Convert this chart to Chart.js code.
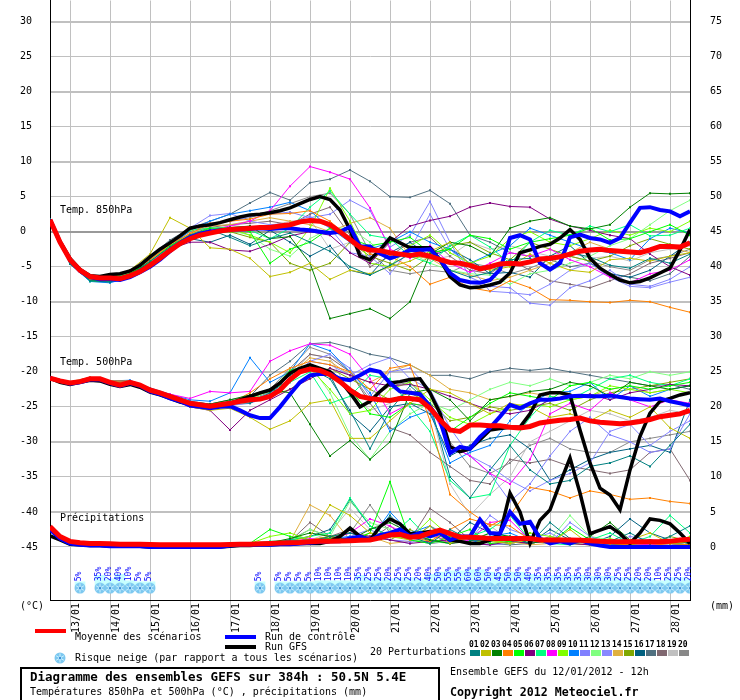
<!DOCTYPE html>
<html>
<head>
<meta charset="utf-8">
<script src="https://cdn.jsdelivr.net/npm/chart.js@4.4.1/dist/chart.umd.min.js"></script>
<style>
  html, body { margin: 0; padding: 0; background: #fff; }
  #wrap { position: relative; width: 740px; height: 700px; overflow: hidden;
          font-family: "DejaVu Sans Mono", monospace; font-size: 10px; color: #000; }
  #chart { position: absolute; left: 0; top: 0; }
  .t { position: absolute; white-space: pre; line-height: 12px; }
  .bar { position: absolute; height: 4px; }
  .sw { position: absolute; width: 10px; height: 6px; top: 650px; }
  .num { position: absolute; top: 640px; font-size: 8px; font-weight: bold; line-height: 9px; }
  #box { position: absolute; left: 20px; top: 667px; width: 416px; height: 40px; border: 2px solid #000; background: #fff; }
</style>
</head>
<body>
<div id="wrap">
  <canvas id="chart" width="740" height="700"></canvas>

  <div class="t" style="left:60px;top:204px">Temp. 850hPa</div>
  <div class="t" style="left:60px;top:356px">Temp. 500hPa</div>
  <div class="t" style="left:60px;top:512px">Précipitations</div>
  <div class="t" style="left:20px;top:600px">(°C)</div>
  <div class="t" style="left:710px;top:600px">(mm)</div>

  <div class="bar" style="left:35px;top:629px;width:31px;background:#ff0000"></div>
  <div class="t" style="left:75px;top:631px">Moyenne des scénarios</div>
  <div class="bar" style="left:225px;top:635px;width:31px;background:#0000ff"></div>
  <div class="t" style="left:265px;top:631px">Run de contrôle</div>
  <div class="bar" style="left:225px;top:645px;width:31px;background:#000000"></div>
  <div class="t" style="left:265px;top:641px">Run GFS</div>
  <canvas id="legflake" width="12" height="12" style="position:absolute;left:54px;top:652px"></canvas>
  <div class="t" style="left:75px;top:652px">Risque neige (par rapport a tous les scénarios)</div>
  <div class="t" style="left:370px;top:646px">20 Perturbations</div>
  <div id="legend20"></div>

  <div id="box"></div>
  <div class="t" style="left:30px;top:670px;font-size:12.5px;font-weight:bold;line-height:14px">Diagramme des ensembles GEFS sur 384h : 50.5N 5.4E</div>
  <div class="t" style="left:30px;top:686px">Températures 850hPa et 500hPa (°C) , précipitations (mm)</div>
  <div class="t" style="left:450px;top:666px">Ensemble GEFS du 12/01/2012 - 12h</div>
  <div class="t" style="left:450px;top:685px;font-size:11.6px;font-weight:bold;line-height:14px">Copyright 2012 Meteociel.fr</div>
</div>

<script>
// time axis: run of 12/01/2012 12h, 384h, main runs every 6h, members every 12h
const step6 = Array.from({ length: 65 }, (_, i) => i * 6);
const step12 = Array.from({ length: 33 }, (_, j) => j * 12);
const dayHours = [12, 36, 60, 84, 108, 132, 156, 180, 204, 228, 252, 276, 300, 324, 348, 372];
const dayLabels = ['13/01', '14/01', '15/01', '16/01', '17/01', '18/01', '19/01', '20/01',
                   '21/01', '22/01', '23/01', '24/01', '25/01', '26/01', '27/01', '28/01'];
const leftTicks = [30, 25, 20, 15, 10, 5, 0, -5, -10, -15, -20, -25, -30, -35, -40, -45];
const rightTicks = [75, 70, 65, 60, 55, 50, 45, 40, 35, 30, 25, 20, 15, 10, 5, 0];

const memberColors = ['#008080', '#c0c000', '#008000', '#ff8000', '#00ff00', '#800080', '#00ff80',
  '#ff00ff', '#80ff00', '#0080ff', '#8080ff', '#80ff80', '#8888ff', '#e0b040', '#80a800',
  '#006080', '#507080', '#806870', '#c0c0c0', '#888888'];

// snow risk (% of members), every 6h
const snowPct = [0, 0, 0, 5, 0, 35, 20, 40, 10, 5, 5, 0, 0, 0, 0, 0, 0, 0, 0, 0, 0, 5, 0, 5, 5, 5, 5,
  10, 10, 10, 10, 35, 25, 25, 20, 25, 25, 20, 40, 50, 55, 55, 60, 60, 50, 45, 50, 50, 40, 35, 35,
  35, 35, 35, 30, 30, 30, 25, 25, 20, 20, 10, 25, 25, 20];

// 850 hPa (°C)
const mean850 = [1.7, -1.5, -4.0, -5.5, -6.4, -6.6, -6.6, -6.7, -6.3, -5.7, -4.8, -3.8, -2.7, -1.7, -1.0, -0.5,
  -0.2, 0.1, 0.3, 0.4, 0.5, 0.6, 0.6, 0.8, 1.0, 1.4, 1.6, 1.5, 1.0, 0.0, -1.1, -2.2, -2.6, -2.7, -3.0, -3.2,
  -3.4, -3.2, -3.5, -4.0, -4.4, -4.5, -4.8, -5.3, -5.0, -4.6, -4.5, -4.6, -4.3, -3.9, -3.8, -3.6, -3.2,
  -2.8, -2.6, -2.5, -2.7, -2.8, -2.9, -3.0, -2.6, -2.1, -2.1, -2.2, -1.6];
const ctrl850 = [1.7, -1.5, -4.0, -5.6, -6.5, -6.8, -6.8, -6.9, -6.5, -5.8, -5.0, -4.0, -2.8, -1.6, -0.8, -0.3,
  0.0, 0.2, 0.3, 0.3, 0.4, 0.5, 0.4, 0.5, 0.5, 0.3, 0.2, 0.0, -0.2, 0.0, 0.7, -2.1, -2.1, -3.1, -3.8, -3.3,
  -2.6, -2.6, -2.5, -4.0, -5.9, -6.9, -7.2, -7.3, -6.9, -5.4, -0.9, -0.5, -1.1, -4.5, -5.4, -4.5, -0.8,
  -0.4, -0.9, -1.1, -1.6, -0.9, 1.3, 3.4, 3.5, 3.1, 2.9, 2.2, 2.9];
const gfs850 = [1.7, -1.4, -3.8, -5.4, -6.3, -6.4, -6.1, -6.0, -5.6, -4.8, -3.6, -2.5, -1.6, -0.6, 0.5, 0.8,
  1.0, 1.3, 1.7, 2.1, 2.4, 2.5, 2.7, 3.0, 3.4, 4.0, 4.6, 5.0, 4.6, 3.1, 0.3, -3.5, -4.0, -2.6, -0.9, -1.6,
  -2.3, -2.3, -2.3, -4.0, -6.4, -7.6, -8.0, -7.9, -7.6, -7.2, -5.9, -3.0, -2.6, -2.1, -1.8, -0.9, 0.3,
  -1.1, -3.8, -5.2, -6.1, -6.9, -7.3, -7.1, -6.6, -5.9, -5.2, -2.6, 0.3];
const pert850 = [
  [1.8, -4.6, -7.0, -7.2, -6.2, -4.2, -2.2, -0.5, 0.3, -0.8, -2.0, -1.0, -0.2, -1.5, -2.8, -5.0, -6.2, -4.8, -3.2, -2.5, -5.5, -6.5, -5.8, -4.0, -3.8, -5.2, -3.0, -3.6, -4.8, -5.2, -3.8, -4.5, -3.2],
  [1.7, -4.3, -6.8, -6.8, -5.5, -3.2, 2.0, 0.5, -2.3, -2.5, -3.8, -6.4, -5.8, -4.5, -6.8, -5.5, -6.0, -5.0, -4.2, -2.8, -1.5, -4.8, -5.5, -5.0, -3.2, -4.5, -5.5, -5.8, -4.0, -3.8, -4.2, -3.5, -3.0],
  [1.6, -4.2, -6.9, -6.9, -6.0, -4.5, -2.8, -1.2, -0.2, 0.6, 0.8, -1.0, -0.7, -4.5, -12.4, -11.7, -11.0, -12.4, -10.0, -3.2, -1.5, -2.0, -3.5, 0.5, 1.5, 2.0, 0.8, 0.4, 1.0, 3.5, 5.5, 5.4, 5.5],
  [1.7, -4.5, -6.8, -6.5, -5.8, -4.0, -1.8, -0.3, 1.2, 1.5, 1.8, 2.5, 2.6, 3.0, 1.5, -1.0, -3.2, -3.5, -5.0, -7.5, -6.5, -8.0, -8.5, -7.0, -8.0, -9.7, -9.8, -10.0, -10.1, -9.8, -10.0, -10.8, -11.5],
  [1.8, -4.4, -7.0, -7.1, -6.0, -4.3, -2.0, -0.5, 0.5, 0.5, 0.0, -4.5, -2.5, -1.5, 0.5, -1.0, -2.0, -1.5, -0.8, -3.0, -2.5, -0.5, -1.0, -2.5, -1.5, -1.0, -0.5, 0.5, -1.2, -1.0, 0.0, 1.0, -0.5],
  [1.7, -4.5, -6.8, -6.8, -6.2, -4.5, -2.5, -1.5, -1.5, -2.6, -2.8, -1.8, -0.6, 0.0, -0.5, -3.0, -4.5, -1.5, 0.8, 1.6, 2.2, 3.5, 4.1, 3.6, 3.5, 1.8, 0.8, 0.2, -0.5, -1.0, -3.2, -5.0, -6.2],
  [1.8, -4.3, -6.7, -6.7, -5.9, -3.8, -1.5, 0.2, 0.5, 0.6, 0.2, -1.0, 0.5, 3.5, 5.8, 2.5, -0.5, -1.0, -3.5, -4.5, -2.0, -0.5, -2.2, -4.5, -1.5, 0.2, -0.5, 0.8, 0.0, 1.0, -0.6, -0.5, 0.5],
  [1.7, -4.4, -6.9, -7.0, -6.2, -4.2, -2.5, -0.5, 0.3, 0.8, 1.5, 3.0, 6.5, 9.3, 8.5, 7.5, 3.4, -2.5, -3.8, -2.0, -4.5, -5.8, -4.5, -3.0, -3.5, -2.5, -4.0, -5.0, -6.5, -7.3, -6.0, -5.5, -4.0],
  [1.8, -4.3, -6.8, -6.9, -6.0, -4.2, -2.4, -0.6, 0.4, 0.5, -0.5, -1.5, -3.0, 0.5, 6.2, 1.5, -4.5, -5.0, -2.0, -0.5, -3.0, -4.5, -3.5, -1.0, 0.0, -1.5, -2.0, -1.0, 0.2, -0.5, 0.5, 0.0, 1.5],
  [1.7, -4.6, -7.1, -7.3, -6.5, -4.5, -2.2, 0.2, 1.5, 2.5, 3.0, 3.5, 4.2, 3.0, 0.5, -1.5, -2.5, -1.5, 0.0, -1.5, -2.5, -4.5, -3.2, -2.0, 0.5, -0.5, -1.5, -2.5, -3.0, -4.0, -1.0, 0.5, -0.2],
  [1.7, -4.4, -6.7, -6.6, -5.8, -3.8, -1.8, 0.3, 1.2, 1.5, 2.2, 2.5, 2.8, 2.0, 2.5, 4.5, 3.0, -2.2, -0.5, 4.3, -1.5, -6.5, -7.8, -8.0, -10.2, -10.5, -8.0, -7.0, -5.5, -7.5, -7.8, -6.8, -5.0],
  [1.8, -4.5, -7.1, -7.2, -6.5, -4.8, -2.8, -1.0, 0.0, 0.2, -0.5, -2.5, -3.5, -1.0, 0.5, 0.5, -1.5, -4.0, -3.0, -4.5, -5.5, -6.0, -6.2, -7.5, -6.0, -5.5, -4.5, -3.5, -2.0, -1.0, 1.0, 3.0, 4.5],
  [1.7, -4.2, -6.5, -6.4, -5.5, -3.5, -1.5, 0.5, 2.3, 2.6, 1.5, 1.0, 1.2, 2.2, 0.5, -3.0, -3.5, -6.0, -2.5, 2.5, -2.5, -5.0, -8.5, -8.7, -9.0, -7.5, -5.5, -4.5, -6.5, -7.8, -8.0, -7.2, -6.5],
  [1.7, -4.5, -6.8, -6.6, -5.5, -4.0, -2.0, -0.2, 0.8, 1.0, 1.5, 2.0, 1.5, 1.0, 0.0, 1.2, 2.0, 0.5, -3.5, -3.8, -5.5, -6.2, -7.0, -6.5, -5.5, -4.5, -3.0, -1.5, -2.5, -3.0, -2.5, -2.2, -3.0],
  [1.7, -4.3, -6.8, -6.8, -6.0, -4.0, -2.0, -0.8, -0.2, 0.0, -0.8, -1.5, -4.5, -5.5, -4.5, -1.5, -3.5, -4.5, -5.5, -3.5, -2.0, -1.5, -3.0, -4.0, -1.5, -2.5, -3.5, -4.2, -3.5, -2.0, -1.0, -1.8, -2.5],
  [1.7, -4.6, -7.0, -7.1, -6.2, -4.5, -2.5, -1.0, -1.5, -0.5, -1.8, 0.2, -1.5, -3.5, -2.0, -5.5, -6.2, -3.0, -1.5, -3.5, -2.5, -4.0, -6.0, -5.8, -6.5, -3.5, -2.0, -4.5, -6.0, -6.5, -5.5, -3.5, -1.5],
  [1.7, -4.3, -6.8, -6.8, -5.8, -3.5, -1.2, 0.5, 1.5, 2.5, 4.1, 5.6, 4.5, 7.0, 7.5, 8.8, 7.2, 5.0, 4.9, 5.9, 4.0, -0.5, -1.5, -3.0, -3.5, -4.0, -5.0, -4.5, -6.0, -6.5, -7.0, -6.0, -3.5],
  [1.7, -4.4, -6.8, -6.9, -6.1, -4.3, -2.2, -0.4, 0.6, 1.0, 1.2, 1.5, 1.0, 2.5, 3.5, -0.5, -5.0, -3.5, -1.5, -0.8, -3.5, -5.5, -6.0, -4.0, -5.5, -7.0, -7.5, -8.0, -7.0, -6.0, -4.5, -3.8, -3.0],
  [1.7, -4.5, -6.9, -6.9, -5.9, -4.0, -2.0, -0.3, 0.8, 1.0, 0.5, 0.8, 1.5, 1.8, -2.5, -1.5, -4.5, -5.0, -3.0, -4.0, -3.5, -1.5, -2.5, -2.0, -2.8, -3.5, -3.0, -3.8, -3.5, -4.2, -3.0, -2.5, -2.0],
  [1.7, -4.4, -6.8, -6.7, -5.7, -3.8, -1.8, 0.0, 1.0, 1.5, 2.0, 3.0, 4.0, 5.0, 5.5, 2.5, -3.0, -5.5, -6.0, -5.5, -5.8, -4.5, -5.0, -6.0, -5.2, -4.0, -3.5, -4.2, -5.0, -5.5, -4.0, -3.5, -2.5]
];

// 500 hPa (°C)
const mean500 = [-20.9, -21.3, -21.6, -21.4, -21.0, -21.0, -21.5, -21.9, -21.5, -21.9, -22.6, -23.0, -23.5,
  -24.0, -24.5, -24.7, -24.9, -24.7, -24.5, -24.2, -24.0, -23.9, -23.5, -22.6, -21.1, -20.0, -19.6, -19.8,
  -20.4, -21.4, -22.6, -23.5, -23.8, -24.0, -24.1, -23.8, -23.8, -24.0, -25.2, -26.9, -28.3, -28.5, -27.6,
  -27.6, -27.7, -27.7, -27.9, -28.0, -27.8, -27.3, -27.1, -26.9, -26.8, -26.6, -27.0, -27.2, -27.3, -27.4,
  -27.3, -27.1, -26.8, -26.4, -26.2, -26.0, -25.5];
const ctrl500 = [-20.9, -21.3, -21.7, -21.5, -21.1, -21.1, -21.6, -22.0, -21.6, -22.0, -22.8, -23.2, -23.8,
  -24.2, -24.8, -25.0, -25.2, -25.0, -24.9, -25.5, -26.2, -26.6, -26.6, -25.0, -23.2, -21.5, -20.5, -20.3,
  -20.3, -21.0, -21.2, -20.5, -19.7, -20.0, -21.6, -22.8, -23.0, -23.2, -25.0, -26.9, -31.6, -30.7, -31.0,
  -29.3, -28.0, -26.4, -24.7, -25.2, -24.5, -24.0, -24.0, -23.8, -23.5, -23.4, -23.5, -23.5, -23.4, -23.6,
  -23.8, -23.9, -24.0, -23.8, -24.2, -24.5, -24.8];
const gfs500 = [-20.9, -21.5, -21.8, -21.5, -21.2, -21.3, -21.8, -22.1, -21.8, -22.2, -22.9, -23.3, -23.8,
  -24.3, -24.6, -24.8, -25.0, -24.8, -24.5, -24.0, -23.5, -23.0, -22.6, -21.6, -20.2, -19.5, -19.0, -19.5,
  -20.0, -21.2, -23.0, -25.0, -24.2, -22.8, -21.6, -21.4, -21.1, -21.0, -23.0, -25.9, -30.7, -31.4, -31.0,
  -29.7, -28.3, -28.1, -27.9, -27.9, -26.0, -23.3, -23.0, -23.0, -23.3, -28.3, -33.0, -36.6, -37.6, -39.7,
  -34.0, -29.2, -25.9, -24.2, -23.8, -23.3, -23.0];
const pert500 = [
  [-20.8, -21.7, -21.2, -21.6, -21.7, -22.8, -23.8, -24.6, -24.8, -24.2, -24.5, -23.0, -20.5, -19.5, -21.0, -25.5, -31.0, -25.5, -22.0, -24.5, -35.0, -38.0, -34.0, -30.5, -34.0, -36.0, -35.5, -33.5, -33.0, -32.0, -33.5, -30.5, -27.5],
  [-21.0, -21.6, -21.0, -21.4, -21.6, -22.5, -23.5, -25.0, -25.5, -25.2, -26.5, -28.2, -27.0, -24.5, -24.0, -29.5, -29.5, -27.0, -24.5, -22.5, -23.0, -24.5, -26.0, -24.5, -25.0, -26.5, -26.0, -27.0, -25.5, -26.5, -25.0, -28.0, -29.5],
  [-20.9, -21.8, -21.1, -21.5, -21.6, -22.6, -23.4, -24.3, -24.6, -24.0, -23.3, -22.5, -23.0, -27.5, -32.0, -29.8, -32.5, -30.0, -23.0, -22.5, -24.0, -27.0, -24.0, -23.5, -22.8, -22.5, -21.5, -22.0, -23.5, -21.5, -22.0, -22.5, -22.0],
  [-20.9, -21.5, -20.8, -21.3, -21.3, -22.4, -23.6, -24.8, -25.0, -24.5, -23.0, -21.0, -19.5, -18.5, -19.0, -20.0, -22.5, -19.5, -19.0, -27.0, -37.5, -40.0, -42.0, -40.5, -36.5, -37.0, -38.0, -37.0, -37.5, -38.2, -38.0, -38.5, -38.8],
  [-20.9, -21.6, -21.0, -21.5, -21.5, -22.7, -23.6, -24.5, -24.9, -24.2, -23.6, -22.8, -19.8, -19.0, -20.0, -22.5, -26.0, -26.5, -24.5, -25.0, -28.5, -26.5, -24.5, -23.0, -23.5, -24.0, -22.0, -21.5, -22.5, -22.0, -22.5, -22.0, -21.5],
  [-20.8, -21.6, -21.0, -21.5, -21.5, -22.5, -23.8, -25.0, -25.5, -28.3, -25.5, -24.0, -22.5, -21.0, -19.5, -20.5, -21.5, -22.0, -21.8, -22.5, -23.5, -24.5, -25.5, -26.0, -25.5, -24.0, -23.5, -23.2, -24.0, -23.0, -22.5, -21.8, -22.0],
  [-21.0, -21.7, -21.1, -21.6, -21.5, -22.6, -23.4, -24.4, -24.8, -24.4, -23.8, -22.5, -21.5, -20.0, -24.5, -23.5, -20.5, -21.0, -25.0, -28.5, -35.5, -38.0, -37.5, -30.5, -26.5, -23.5, -24.0, -22.5, -21.0, -20.5, -21.5, -22.0, -21.0],
  [-20.9, -21.6, -21.0, -21.4, -21.5, -22.5, -23.2, -23.8, -22.8, -23.0, -22.8, -18.5, -17.0, -16.0, -16.2, -17.5, -21.0, -26.0, -24.5, -25.0, -30.5, -32.0, -34.5, -36.0, -32.5, -26.0, -24.5, -25.5, -23.0, -24.0, -25.0, -24.0, -24.5],
  [-20.9, -21.6, -21.0, -21.5, -21.5, -22.6, -23.5, -24.6, -25.0, -24.5, -24.0, -23.5, -21.0, -19.5, -22.5, -26.0, -25.5, -22.5, -21.5, -24.0, -26.5, -27.5, -26.0, -25.0, -24.5, -25.0, -24.0, -23.5, -22.0, -22.5, -23.0, -22.5, -23.0],
  [-20.9, -21.5, -20.8, -21.3, -21.2, -22.3, -23.2, -24.0, -24.2, -23.0, -18.0, -21.5, -20.0, -16.0, -17.0, -20.0, -23.0, -28.5, -26.5, -25.5, -33.0, -31.5, -30.5, -27.0, -24.5, -23.0, -22.8, -21.5, -24.0, -22.0, -23.5, -22.5, -22.0],
  [-20.9, -21.6, -21.0, -21.5, -21.6, -22.7, -23.7, -24.8, -25.3, -24.8, -24.2, -23.0, -21.5, -18.5, -17.5, -19.5, -23.5, -20.0, -19.5, -22.5, -28.0, -32.0, -34.5, -38.5, -36.0, -32.0, -28.5, -26.5, -29.0, -30.0, -31.5, -31.0, -26.0],
  [-21.0, -21.7, -21.1, -21.6, -21.6, -22.7, -23.6, -24.6, -25.0, -24.5, -24.0, -23.0, -21.5, -19.0, -23.0, -29.0, -32.5, -28.5, -26.0, -24.5, -25.5, -24.0, -22.5, -21.5, -22.0, -21.0, -22.0, -21.5, -20.5, -21.0, -20.0, -20.5, -20.0],
  [-20.9, -21.6, -21.0, -21.5, -21.5, -22.5, -23.5, -24.5, -25.0, -24.8, -24.5, -23.5, -21.0, -18.5, -19.0, -20.5, -19.0, -18.0, -21.0, -22.5, -30.5, -32.0, -33.5, -35.5, -37.0, -35.5, -34.5, -33.0, -28.5, -27.5, -30.5, -28.5, -27.0],
  [-20.9, -21.4, -20.8, -21.3, -21.3, -22.4, -23.4, -24.3, -24.8, -24.6, -24.0, -22.5, -20.5, -18.0, -18.5, -20.5, -21.5, -20.0, -19.0, -20.5, -22.5, -23.0, -24.0, -23.5, -23.0, -23.5, -24.0, -23.5, -22.5, -22.0, -23.0, -22.5, -22.0],
  [-20.9, -21.6, -21.0, -21.5, -21.5, -22.6, -23.6, -24.6, -25.0, -24.8, -24.4, -23.5, -22.5, -20.5, -19.5, -21.0, -22.5, -24.0, -23.0, -24.5, -27.0, -26.5, -25.0, -25.5, -25.0, -24.5, -25.5, -24.0, -23.0, -22.5, -22.0, -21.5, -21.0],
  [-20.9, -21.6, -21.0, -21.5, -21.6, -22.6, -23.5, -24.7, -25.0, -24.5, -24.0, -23.0, -21.0, -19.5, -20.5, -26.0, -28.5, -25.0, -24.5, -26.0, -32.0, -30.5, -29.5, -29.0, -31.0, -35.5, -34.0, -32.5, -31.5, -31.0, -30.5, -31.5, -24.0],
  [-20.8, -21.5, -20.9, -21.3, -21.4, -22.5, -23.3, -24.2, -24.6, -24.0, -23.5, -20.5, -18.5, -16.0, -15.8, -16.5, -17.5, -18.0, -19.0, -20.5, -20.5, -21.0, -20.0, -19.5, -19.8, -19.5, -20.0, -20.5, -21.0, -21.5, -22.0, -21.8, -22.5],
  [-20.9, -21.6, -21.0, -21.5, -21.5, -22.6, -23.6, -24.6, -24.9, -24.5, -24.0, -23.0, -20.0, -17.5, -18.0, -20.0, -24.5, -28.0, -29.0, -31.5, -33.5, -35.5, -36.0, -32.5, -33.0, -32.5, -33.5, -34.0, -34.5, -34.0, -31.5, -31.0, -35.5],
  [-20.9, -21.6, -21.0, -21.5, -21.5, -22.6, -23.5, -24.6, -25.0, -24.6, -24.0, -22.8, -20.5, -17.5, -18.0, -23.0, -25.5, -24.5, -22.5, -25.0, -36.0, -40.5, -37.5, -35.0, -30.0, -28.5, -27.0, -25.5, -26.0, -27.0, -26.5, -25.5, -26.0],
  [-20.9, -21.5, -20.9, -21.4, -21.5, -22.5, -23.5, -24.4, -24.9, -24.3, -23.8, -22.5, -19.5, -16.5, -17.5, -20.0, -24.0, -22.0, -21.5, -24.5, -30.0, -33.5, -34.5, -33.0, -30.5, -29.5, -31.0, -31.5, -31.5, -30.0, -29.5, -29.0, -28.5]
];

// precipitation (mm), right axis
const meanPr = [2.9, 1.5, 0.8, 0.6, 0.5, 0.5, 0.45, 0.4, 0.4, 0.4, 0.35, 0.3, 0.3, 0.3, 0.3, 0.3, 0.3, 0.3,
  0.35, 0.4, 0.4, 0.45, 0.5, 0.55, 0.6, 0.65, 0.75, 0.8, 0.8, 0.85, 0.9, 0.95, 1.0, 1.3, 1.7, 1.8, 1.4, 1.5,
  2.0, 2.4, 1.9, 1.4, 1.4, 1.3, 1.2, 1.2, 1.2, 1.2, 1.2, 1.0, 1.0, 1.0, 1.0, 0.95, 0.9, 0.8, 0.75, 0.75,
  0.75, 0.75, 0.75, 0.75, 0.8, 1.0, 1.1];
const ctrlPr = [2.5, 1.2, 0.5, 0.3, 0.2, 0.2, 0.1, 0.1, 0.1, 0.1, 0, 0, 0, 0, 0, 0, 0, 0, 0.2, 0.3, 0.3, 0.3,
  0.3, 0.4, 0.4, 0.5, 0.6, 0.7, 0.8, 0.8, 1.2, 1.5, 1.0, 1.7, 2.0, 2.5, 1.5, 2.0, 1.5, 2.0, 1.0, 1.5, 1.5,
  3.9, 2.0, 1.9, 5.0, 3.3, 3.6, 1.2, 0.5, 0.8, 0.5, 1.0, 0.5, 0.2, 0, 0, 0, 0, 0, 0, 0, 0, 0];
const gfsPr = [1.6, 1.0, 0.4, 0.3, 0.2, 0.2, 0.1, 0.1, 0.1, 0.1, 0, 0, 0, 0, 0, 0, 0, 0, 0.1, 0.2, 0.2, 0.3,
  0.3, 0.4, 0.4, 0.5, 0.5, 0.5, 0.8, 1.5, 2.7, 1.5, 1.0, 2.9, 4.0, 3.3, 1.9, 2.0, 2.2, 2.0, 1.0, 0.8, 0.5,
  0.5, 1.0, 1.9, 7.7, 5.0, 0.5, 3.8, 5.3, 9.1, 12.7, 7.7, 1.9, 2.4, 2.9, 1.9, 0.5, 2.0, 4.0, 3.8, 3.3, 2.0, 0.5];
const pertPr = [
  [2.5, 0.5, 0.3, 0.2, 0.1, 0, 0, 0, 0.1, 0.2, 0.3, 0.5, 1.0, 0.8, 1.5, 2.0, 1.0, 4.5, 1.5, 0.5, 2.5, 1.0, 0.8, 1.5, 0.5, 3.5, 1.2, 0.5, 0.8, 2.0, 0.5, 1.5, 3.0],
  [2.6, 0.6, 0.3, 0.2, 0.1, 0, 0, 0, 0.1, 0.1, 0.3, 0.5, 0.8, 1.5, 6.0, 4.5, 2.0, 1.5, 1.0, 3.0, 0.5, 1.5, 0.8, 0.5, 1.0, 0.5, 2.5, 0.3, 0.5, 1.0, 2.0, 0.5, 0.8],
  [2.5, 0.5, 0.3, 0.2, 0.1, 0, 0, 0, 0.1, 0.2, 0.4, 0.6, 1.2, 2.0, 1.5, 1.0, 2.5, 3.5, 2.0, 1.0, 0.5, 0.8, 2.0, 1.5, 0.5, 1.0, 0.5, 1.5, 3.5, 1.0, 0.5, 1.0, 0.5],
  [2.7, 0.5, 0.3, 0.2, 0.1, 0, 0, 0, 0.1, 0.1, 0.2, 0.5, 0.8, 1.0, 1.5, 0.8, 1.2, 2.0, 1.5, 0.8, 2.5, 4.0, 3.2, 3.0, 1.0, 0.5, 0.8, 1.2, 0.5, 0.3, 0.2, 0.5, 0.3],
  [2.5, 0.6, 0.3, 0.2, 0.1, 0, 0, 0, 0.1, 0.3, 0.5, 2.5, 1.5, 1.0, 1.2, 0.8, 2.0, 9.3, 1.0, 0.5, 1.5, 2.5, 0.5, 0.8, 1.5, 0.5, 2.8, 1.0, 0.5, 0.3, 0.8, 0.5, 0.3],
  [2.5, 0.5, 0.3, 0.2, 0.1, 0, 0, 0, 0.1, 0.1, 0.3, 0.4, 0.8, 1.0, 1.2, 2.0, 1.5, 1.0, 0.5, 0.8, 1.0, 0.5, 0.3, 0.8, 0.5, 1.0, 0.5, 0.3, 0.2, 0.5, 1.0, 0.5, 0.8],
  [2.6, 0.5, 0.3, 0.2, 0.1, 0, 0, 0, 0.1, 0.2, 0.5, 0.8, 1.0, 1.5, 2.0, 7.0, 3.0, 1.5, 4.0, 1.0, 0.5, 1.5, 2.5, 4.5, 1.0, 0.5, 0.3, 1.0, 2.0, 0.5, 1.5, 4.5, 2.0],
  [2.5, 0.5, 0.3, 0.2, 0.1, 0, 0, 0, 0.1, 0.2, 0.3, 0.5, 0.8, 1.2, 1.0, 2.0, 4.0, 3.0, 1.5, 2.0, 0.5, 1.0, 3.5, 3.8, 1.0, 0.5, 0.8, 0.5, 1.0, 0.5, 0.3, 0.5, 0.2],
  [2.5, 0.5, 0.3, 0.2, 0.1, 0, 0, 0, 0.1, 0.2, 0.5, 1.5, 2.0, 1.0, 1.5, 1.0, 2.0, 1.5, 1.2, 4.0, 1.5, 0.5, 1.0, 0.5, 2.0, 1.5, 0.8, 0.5, 1.2, 0.5, 0.8, 0.5, 1.5],
  [2.6, 0.5, 0.3, 0.2, 0.1, 0, 0, 0, 0.1, 0.2, 0.4, 0.5, 0.8, 1.0, 1.2, 1.5, 1.0, 5.0, 2.0, 3.0, 1.0, 0.5, 1.5, 2.0, 0.8, 0.5, 1.0, 0.5, 0.3, 0.5, 1.0, 0.5, 0.3],
  [2.5, 0.5, 0.3, 0.2, 0.1, 0, 0, 0, 0.1, 0.2, 0.3, 0.5, 0.6, 0.8, 1.0, 1.5, 2.5, 1.0, 0.8, 1.5, 2.0, 1.0, 4.5, 2.5, 1.5, 0.5, 3.5, 1.5, 0.5, 0.3, 0.5, 1.0, 0.5],
  [2.5, 0.5, 0.3, 0.2, 0.1, 0, 0, 0, 0.1, 0.2, 0.3, 0.5, 0.8, 2.5, 1.5, 6.5, 3.5, 2.5, 1.0, 0.8, 0.5, 1.0, 2.0, 1.5, 0.5, 1.0, 4.5, 1.5, 1.0, 0.5, 0.3, 0.5, 0.8],
  [2.5, 0.5, 0.3, 0.2, 0.1, 0, 0, 0, 0.1, 0.2, 0.3, 0.5, 0.8, 1.0, 0.8, 1.2, 1.5, 1.0, 0.5, 2.0, 1.0, 0.5, 0.3, 0.5, 1.0, 2.0, 0.5, 0.8, 0.5, 1.5, 1.0, 0.8, 1.0],
  [2.6, 0.5, 0.3, 0.2, 0.1, 0, 0, 0, 0.1, 0.2, 0.3, 0.4, 0.8, 6.0, 4.5, 1.0, 1.5, 0.5, 0.8, 1.5, 1.0, 0.5, 1.0, 0.8, 0.3, 0.5, 1.0, 0.5, 0.3, 0.5, 0.8, 0.5, 0.3],
  [2.5, 0.5, 0.3, 0.2, 0.1, 0, 0, 0, 0.1, 0.2, 0.3, 0.5, 0.8, 1.0, 1.5, 2.0, 1.5, 1.0, 2.5, 1.0, 0.8, 1.5, 1.0, 0.5, 1.0, 0.8, 0.5, 0.3, 1.0, 0.5, 0.3, 1.5, 0.8],
  [2.5, 0.5, 0.3, 0.2, 0.1, 0, 0, 0, 0.1, 0.2, 0.3, 0.5, 1.0, 1.5, 2.5, 6.7, 3.0, 1.5, 2.0, 0.8, 1.0, 3.5, 2.0, 1.0, 0.5, 2.5, 1.0, 0.5, 1.5, 4.0, 2.0, 1.0, 0.5],
  [2.5, 0.5, 0.3, 0.2, 0.1, 0, 0, 0, 0.1, 0.2, 0.3, 0.5, 0.8, 1.0, 1.2, 1.0, 1.5, 2.0, 1.0, 0.5, 0.8, 1.0, 0.5, 0.3, 0.5, 1.0, 0.8, 0.5, 0.3, 0.5, 1.0, 0.5, 0.3],
  [2.5, 0.5, 0.3, 0.2, 0.1, 0, 0, 0, 0.1, 0.2, 0.4, 0.5, 0.8, 3.5, 1.5, 2.5, 1.0, 3.0, 1.0, 5.5, 3.5, 1.0, 1.5, 1.0, 0.5, 1.5, 1.0, 0.5, 0.8, 0.5, 0.3, 0.5, 0.3],
  [2.5, 0.5, 0.3, 0.2, 0.1, 0, 0, 0, 0.1, 0.2, 0.3, 0.5, 0.8, 1.0, 2.0, 5.5, 2.5, 4.0, 1.5, 1.0, 0.5, 1.5, 3.0, 1.0, 0.5, 1.0, 0.5, 0.3, 0.5, 1.0, 0.5, 0.3, 0.5],
  [2.5, 0.5, 0.3, 0.2, 0.1, 0, 0, 0, 0.1, 0.2, 0.3, 0.5, 1.0, 2.5, 1.5, 2.0, 6.0, 2.0, 1.0, 3.0, 1.5, 0.8, 1.0, 0.5, 1.0, 0.5, 0.8, 1.0, 0.5, 0.3, 0.8, 0.5, 0.3]
];

// snow row: hidden axis, 0% sits just above the flake row
const snowRow = -23;
const snowBase = -15;
const snowTextAt = 8;

function flake(size) {
  const c = document.createElement('canvas');
  c.width = size; c.height = size;
  const g = c.getContext('2d');
  const r = size / 2;
  g.fillStyle = '#7cc8f0';
  g.beginPath(); g.arc(r, r, r - 0.5, 0, Math.PI * 2); g.fill();
  g.strokeStyle = '#d0f2ff'; g.lineWidth = 1;
  for (let k = 0; k < 3; k++) {
    const a = k * Math.PI / 3 + Math.PI / 2;
    g.beginPath();
    g.moveTo(r + Math.cos(a) * (r - 1.5), r + Math.sin(a) * (r - 1.5));
    g.lineTo(r - Math.cos(a) * (r - 1.5), r - Math.sin(a) * (r - 1.5));
    g.stroke();
  }
  g.fillStyle = '#3d8fd8';
  g.fillRect(r - 1, r - 1, 2, 2);
  return c;
}
const flakeImg = flake(12);
document.getElementById('legflake').getContext('2d').drawImage(flake(12), 0, 0);

// small member legend
(function () {
  const box = document.getElementById('legend20');
  memberColors.forEach(function (col, k) {
    const n = document.createElement('div');
    n.className = 'num';
    n.style.left = (469 + k * 11) + 'px';
    n.textContent = String(k + 1).padStart(2, '0');
    box.appendChild(n);
    const s = document.createElement('div');
    s.className = 'sw';
    s.style.left = (470 + k * 11) + 'px';
    s.style.background = col;
    box.appendChild(s);
  });
})();

function pts(xs, ys) {
  return ys.map(function (v, k) { return { x: xs[k], y: v }; });
}

const datasets = [];
// main runs on top (first datasets are drawn last)
[[mean850, 'y'], [mean500, 'y'], [meanPr, 'yr']].forEach(function (d) {
  datasets.push({ data: pts(step6, d[0]), yAxisID: d[1], borderColor: '#ff0000', borderWidth: 5, pointRadius: 0 });
});
[[ctrl850, 'y'], [ctrl500, 'y'], [ctrlPr, 'yr']].forEach(function (d) {
  datasets.push({ data: pts(step6, d[0]), yAxisID: d[1], borderColor: '#0000ff', borderWidth: 4, pointRadius: 0 });
});
[[gfs850, 'y'], [gfs500, 'y'], [gfsPr, 'yr']].forEach(function (d) {
  datasets.push({ data: pts(step6, d[0]), yAxisID: d[1], borderColor: '#000000', borderWidth: 3.5, pointRadius: 0 });
});
[[pert850, 'y'], [pert500, 'y'], [pertPr, 'yr']].forEach(function (d) {
  d[0].forEach(function (vals, k) {
    datasets.push({
      data: pts(step12, vals), yAxisID: d[1],
      borderColor: memberColors[k], backgroundColor: memberColors[k],
      borderWidth: 1, pointRadius: 1.4, pointStyle: 'rect', pointBorderWidth: 0
    });
  });
});
const snowIdx = snowPct.map(function (p, i) { return i; }).filter(function (i) { return snowPct[i] > 0; });
datasets.push({
  data: snowIdx.map(function (i) { return { x: step6[i], y: snowRow }; }),
  yAxisID: 'ys', showLine: false, pointStyle: flakeImg, pointRadius: 6
});
datasets.push({
  type: 'bar',
  data: snowIdx.map(function (i) { return { x: step6[i], y: [snowBase, snowPct[i]] }; }),
  yAxisID: 'ys', backgroundColor: '#c8ffff', borderWidth: 0, barThickness: 10
});

const snowText = {
  id: 'snowText',
  afterDatasetsDraw: function (chart) {
    const ctx = chart.ctx;
    const x = chart.scales.x, ys = chart.scales.ys;
    ctx.save();
    ctx.fillStyle = '#0000ff';
    ctx.font = '8px "DejaVu Sans Mono"';
    ctx.textAlign = 'left';
    ctx.textBaseline = 'middle';
    snowIdx.forEach(function (i) {
      ctx.save();
      ctx.translate(x.getPixelForValue(step6[i]) - 1, ys.getPixelForValue(snowTextAt));
      ctx.rotate(-Math.PI / 2);
      ctx.fillText(snowPct[i] + '%', 0, 0);
      ctx.restore();
    });
    ctx.restore();
  }
};

const tickFont = { family: 'DejaVu Sans Mono', size: 10 };
const yTickFont = { family: 'DejaVu Sans Mono', size: 10, lineHeight: 0.1 };

new Chart(document.getElementById('chart'), {
  type: 'line',
  data: { datasets: datasets },
  options: {
    responsive: false,
    animation: false,
    devicePixelRatio: 1,
    events: [],
    layout: { autoPadding: false, padding: { left: 20, right: 0, top: 0, bottom: 0 } },
    elements: { line: { tension: 0 } },
    plugins: { legend: { display: false }, tooltip: { enabled: false } },
    scales: {
      x: {
        type: 'linear', position: 'bottom', min: 0, max: 384, offset: false,
        afterBuildTicks: function (s) { s.ticks = dayHours.map(function (v) { return { value: v }; }); },
        afterFit: function (s) { s.height = 100; },
        grid: { color: '#c0c0c0', lineWidth: 1, offset: false, drawTicks: true, tickLength: 30, tickColor: '#c0c0c0' },
        border: { color: '#000', width: 1 },
        ticks: {
          autoSkip: false, minRotation: 90, maxRotation: 90, padding: -27, labelOffset: 6,
          font: tickFont, color: '#000',
          callback: function (v, i) { return dayLabels[i]; }
        }
      },
      y: {
        type: 'linear', position: 'left', min: -52.57, max: 33,
        afterBuildTicks: function (s) { s.ticks = leftTicks.map(function (v) { return { value: v }; }); },
        afterFit: function (s) { s.width = 30; },
        grid: {
          drawTicks: false,
          color: function (c) { return c.tick && c.tick.value === 0 ? '#999999' : '#c0c0c0'; },
          lineWidth: function (c) { return c.tick && c.tick.value % 10 === 0 ? 2 : 1; }
        },
        border: { color: '#000', width: 1 },
        ticks: { crossAlign: 'far', padding: 0, font: yTickFont, color: '#000' }
      },
      yr: {
        type: 'linear', position: 'right', min: -7.57, max: 78,
        afterBuildTicks: function (s) { s.ticks = rightTicks.map(function (v) { return { value: v }; }); },
        afterFit: function (s) { s.width = 50; },
        grid: { display: true, drawOnChartArea: false, drawTicks: true, tickLength: 20,
                color: 'rgba(0,0,0,0)', tickColor: 'rgba(0,0,0,0)' },
        border: { color: '#000', width: 1 },
        ticks: { padding: 0, font: yTickFont, color: '#000' }
      },
      ys: { type: 'linear', display: false, min: -77.3, max: 2650 }
    }
  },
  plugins: [snowText]
});
</script>
</body>
</html>
